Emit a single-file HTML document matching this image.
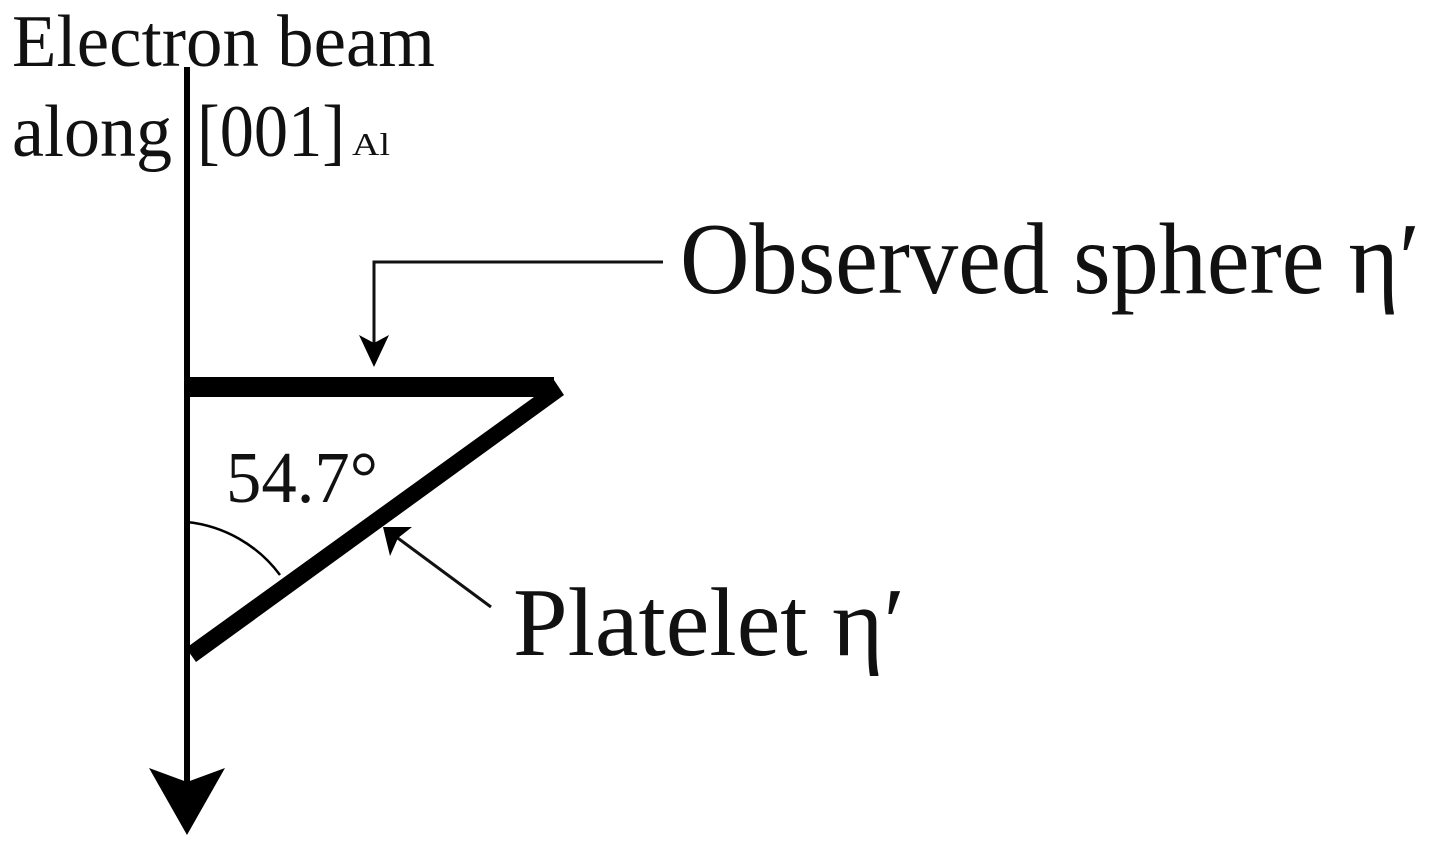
<!DOCTYPE html>
<html><head><meta charset="utf-8"><style>html,body{margin:0;padding:0;background:#fff}svg{display:block}</style></head>
<body>
<svg width="1434" height="846" viewBox="0 0 1434 846" xmlns="http://www.w3.org/2000/svg" font-family="Liberation Serif, serif" fill="#111">
<text x="12" y="66" font-size="74" textLength="423" lengthAdjust="spacingAndGlyphs">Electron beam</text>
<text x="12" y="156" font-size="74" textLength="160" lengthAdjust="spacingAndGlyphs">along</text>
<text x="197" y="156" font-size="74" textLength="148" lengthAdjust="spacingAndGlyphs">[001]</text>
<text x="352" y="155" font-size="32" textLength="38" lengthAdjust="spacingAndGlyphs">Al</text>
<text x="680" y="293" font-size="102" textLength="740" lengthAdjust="spacingAndGlyphs">Observed sphere η′</text>
<text x="513" y="655" font-size="98" textLength="392" lengthAdjust="spacingAndGlyphs">Platelet η′</text>
<text x="226" y="502" font-size="73" textLength="152" lengthAdjust="spacingAndGlyphs">54.7°</text>
<line x1="187" y1="67" x2="187" y2="790" stroke="#000" stroke-width="6"/>
<polygon points="149,768 187,782 225,768 187,835" fill="#000"/>
<line x1="184" y1="387" x2="554" y2="387" stroke="#000" stroke-width="20"/>
<polygon points="186,377 552,377 564,395 196,662 186,648 534,397 186,397" fill="#000"/>
<path d="M187,522 A133,133 0 0 1 280,575" fill="none" stroke="#000" stroke-width="2.5"/>
<polyline points="663,262 374,262 374,345" fill="none" stroke="#111" stroke-width="3"/>
<polygon points="359,335 374,343 389,335 374,367" fill="#000"/>
<line x1="491" y1="607" x2="395" y2="536" stroke="#111" stroke-width="3"/>
<polygon points="383,527 412,527 398,538 390,556" fill="#000"/>
</svg>
</body></html>
